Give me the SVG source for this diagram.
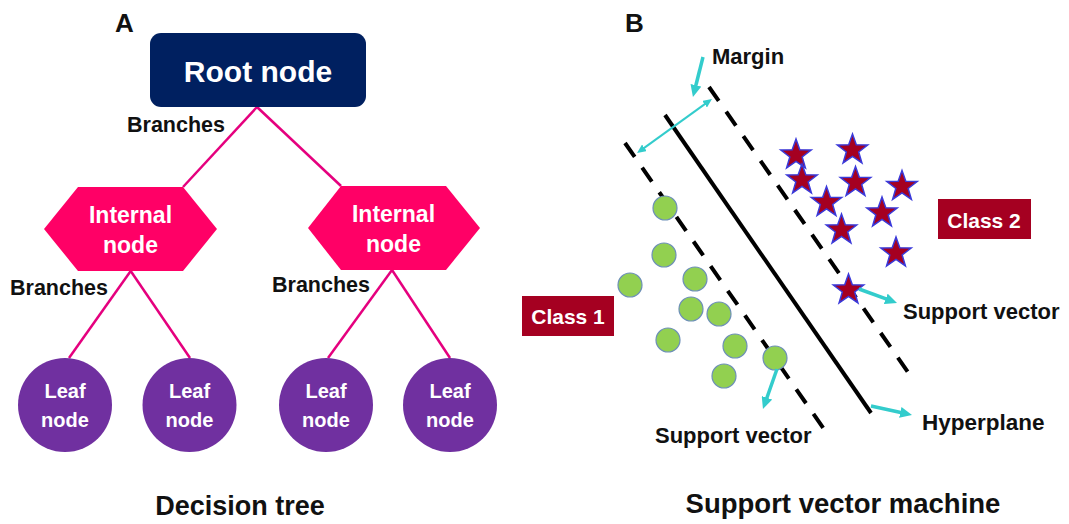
<svg xmlns="http://www.w3.org/2000/svg" xmlns:xlink="http://www.w3.org/1999/xlink" width="1069" height="524" viewBox="0 0 1069 524">
  <style>
    text { font-family: "Liberation Sans", Arial, sans-serif; font-weight: bold; }
    .lbl { fill: #111; font-size: 22px; }
    .panel { fill: #111; font-size: 26px; }
    .title { fill: #111; font-size: 27px; text-anchor: middle; }
    .wt { fill: #fff; text-anchor: middle; }
    .root { fill: #002060; }
    .hex { fill: #FF0066; }
    .leaf { fill: #7030A0; }
    .cls { fill: #A50021; }
    .branch { stroke: #E5007E; stroke-width: 2.5; fill: none; }
    .dash { stroke: #000; stroke-width: 4; stroke-dasharray: 17 13; fill: none; }
    .solid { stroke: #000; stroke-width: 4; fill: none; }
    .arrow { stroke: #33CCCC; stroke-width: 3.5; fill: none; marker-end: url(#head); }
    .darrow { stroke: #33CCCC; stroke-width: 2; fill: none; marker-end: url(#headS); marker-start: url(#headS); }
    .pt { fill: #92D050; stroke: #6D8FB8; stroke-width: 1.2; }
    .star { fill: #A50021; stroke: #3A3ADA; stroke-width: 1.5; }
  </style>
  <defs>
    <marker id="head" markerUnits="userSpaceOnUse" viewBox="0 0 12 11" markerWidth="12" markerHeight="11" refX="4" refY="5.5" orient="auto">
      <path d="M0,0 L12,5.5 L0,11 Z" fill="#33CCCC"/>
    </marker>
    <marker id="headS" markerUnits="userSpaceOnUse" viewBox="0 0 9 8" markerWidth="9" markerHeight="8" refX="4" refY="4" orient="auto-start-reverse">
      <path d="M0,0 L9,4 L0,8 Z" fill="#33CCCC"/>
    </marker>
    <path id="star" d="M0,-16 L3.82,-5.26 L15.22,-4.94 L6.18,2.01 L9.40,12.94 L0,6.5 L-9.40,12.94 L-6.18,2.01 L-15.22,-4.94 L-3.82,-5.26 Z"/>
  </defs>

  <rect width="1069" height="524" fill="#fff"/>

  <!-- Panel A: decision tree -->
  <text class="panel" x="115" y="32">A</text>

  <g id="tree-edges">
    <line class="branch" x1="257" y1="107" x2="183" y2="187"/>
    <line class="branch" x1="257" y1="107" x2="341" y2="186"/>
    <line class="branch" x1="130.7" y1="271" x2="69" y2="358"/>
    <line class="branch" x1="130.7" y1="271" x2="190" y2="358"/>
    <line class="branch" x1="392" y1="270" x2="328" y2="358"/>
    <line class="branch" x1="392" y1="270" x2="450" y2="358"/>
  </g>

  <g id="branch-labels">
    <text class="lbl" x="127" y="132" style="font-size:21.5px">Branches</text>
    <text class="lbl" x="10" y="295" style="font-size:21.5px">Branches</text>
    <text class="lbl" x="272" y="291.5" style="font-size:21.5px">Branches</text>
  </g>

  <g id="root-node">
    <rect class="root" x="150" y="33" width="216" height="74" rx="11"/>
    <text class="wt" x="258" y="82" style="font-size:30px">Root node</text>
  </g>

  <g id="internal-node-left">
    <polygon class="hex" points="44,229 78,187 183,187 217,229 183,271 78,271"/>
    <text class="wt" x="130.5" y="223" style="font-size:23px">Internal</text>
    <text class="wt" x="130.5" y="253" style="font-size:23px">node</text>
  </g>

  <g id="internal-node-right">
    <polygon class="hex" points="308,228 341,186 446,186 480,228 446,270 341,270"/>
    <text class="wt" x="393.5" y="222" style="font-size:23px">Internal</text>
    <text class="wt" x="393.5" y="252" style="font-size:23px">node</text>
  </g>

  <g id="leaf-1">
    <circle class="leaf" cx="65" cy="405" r="47"/>
    <text class="wt" x="65" y="398" style="font-size:20px">Leaf</text>
    <text class="wt" x="65" y="427" style="font-size:20px">node</text>
  </g>
  <g id="leaf-2">
    <circle class="leaf" cx="189.5" cy="405" r="47"/>
    <text class="wt" x="189.5" y="398" style="font-size:20px">Leaf</text>
    <text class="wt" x="189.5" y="427" style="font-size:20px">node</text>
  </g>
  <g id="leaf-3">
    <circle class="leaf" cx="326" cy="405" r="47"/>
    <text class="wt" x="326" y="398" style="font-size:20px">Leaf</text>
    <text class="wt" x="326" y="427" style="font-size:20px">node</text>
  </g>
  <g id="leaf-4">
    <circle class="leaf" cx="450" cy="405" r="47"/>
    <text class="wt" x="450" y="398" style="font-size:20px">Leaf</text>
    <text class="wt" x="450" y="427" style="font-size:20px">node</text>
  </g>

  <text class="title" x="240" y="515">Decision tree</text>

  <!-- Panel B: support vector machine -->
  <text class="panel" x="625" y="32">B</text>

  <g id="boundaries">
    <line class="dash" x1="709" y1="87" x2="910" y2="375"/>
    <line class="solid" x1="665" y1="115" x2="871" y2="413"/>
    <line class="dash" x1="625" y1="143" x2="826" y2="432"/>
  </g>

  <g id="class-1-points">
    <circle class="pt" cx="665" cy="208" r="12"/>
    <circle class="pt" cx="664" cy="255" r="12"/>
    <circle class="pt" cx="630" cy="285" r="12"/>
    <circle class="pt" cx="695" cy="279" r="12"/>
    <circle class="pt" cx="691" cy="309" r="12"/>
    <circle class="pt" cx="719" cy="314" r="12"/>
    <circle class="pt" cx="668" cy="340" r="12"/>
    <circle class="pt" cx="735" cy="346" r="12"/>
    <circle class="pt" cx="775" cy="358" r="12"/>
    <circle class="pt" cx="724" cy="376" r="12"/>
  </g>

  <g id="class-2-points">
    <use href="#star" class="star" x="796" y="155"/>
    <use href="#star" class="star" x="852.5" y="150"/>
    <use href="#star" class="star" x="802" y="180"/>
    <use href="#star" class="star" x="855.5" y="182.5"/>
    <use href="#star" class="star" x="902" y="186.5"/>
    <use href="#star" class="star" x="826.5" y="202.5"/>
    <use href="#star" class="star" x="882" y="213"/>
    <use href="#star" class="star" x="841.5" y="230"/>
    <use href="#star" class="star" x="896" y="253"/>
    <use href="#star" class="star" x="848.5" y="290"/>
  </g>

  <g id="class-1-label">
    <rect class="cls" x="522" y="296" width="92" height="40"/>
    <text class="wt" x="568" y="324" style="font-size:21px">Class 1</text>
  </g>
  <g id="class-2-label">
    <rect class="cls" x="938" y="199" width="93" height="40"/>
    <text class="wt" x="984" y="228" style="font-size:21px">Class 2</text>
  </g>

  <g id="pointers">
    <line class="arrow" x1="703" y1="57" x2="694.9" y2="89.2"/>
    <line class="darrow" x1="641.1" y1="150.1" x2="707.9" y2="101.9"/>
    <line class="arrow" x1="859" y1="289" x2="889.5" y2="300.2"/>
    <line class="arrow" x1="871" y1="406" x2="904.2" y2="413.3"/>
    <line class="arrow" x1="777" y1="369" x2="765.6" y2="401.5"/>
  </g>

  <g id="svm-labels">
    <text class="lbl" x="712" y="64">Margin</text>
    <text class="lbl" x="903" y="319">Support vector</text>
    <text class="lbl" x="922" y="430" style="font-size:22.5px">Hyperplane</text>
    <text class="lbl" x="655" y="443">Support vector</text>
  </g>

  <text class="title" x="843" y="513" style="font-size:27.5px">Support vector machine</text>
</svg>
